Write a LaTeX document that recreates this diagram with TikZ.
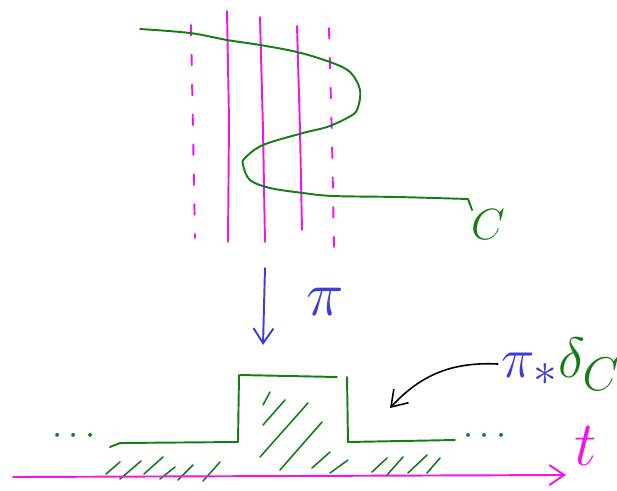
\documentclass[tikz,border=0pt]{standalone}
\usepackage{graphicx}
\usepackage{tikz}
\usetikzlibrary{positioning, arrows.meta}

\definecolor{penGreen}{RGB}{20,125,20}
\definecolor{penMagenta}{RGB}{240,20,240}
\definecolor{penBlue}{RGB}{60,60,215}

\newcommand{\bigmark}[1]{\scalebox{1.45}{\Huge$#1$}}

\begin{document}
\begin{tikzpicture}[
  x=0.02cm, y=-0.02cm,
  pen/.style={line width=1.1pt, line cap=round, line join=round},
  fibre/.style={pen, penMagenta},
  ghost/.style={pen, penMagenta, dash pattern=on 6pt off 11pt},
  curve/.style={pen, penGreen},
  hatch/.style={pen, penGreen, line width=0.9pt},
  arrow/.style={-{Straight Barb[length=3mm, width=4mm]}, pen},
  label/.style={inner sep=0pt, font=\fontsize{26}{26}\selectfont},
  dots/.style={font=\huge\bfseries, penGreen, inner sep=0pt}
]
  \useasboundingbox (0,0) rectangle (617,490);

  % Fibres (magenta)
  \draw[ghost] (191,25) -- (193,130) -- (195,238);
  \draw[fibre] (227,11) -- (229,120) -- (228,242);
  \draw[fibre] (260,17) -- (263,130) -- (265,242);
  \draw[fibre] (297,26) -- (300,130) -- (302,230);
  \draw[ghost] (329,28) -- (332,140) -- (334,247);

  % Curve C (green)
  \draw[curve] plot[smooth, tension=0.55] coordinates {
    (140,29) (190,33) (227,40) (260,45) (297,52) (330,62) (350,72)
    (360,90) (357,110) (347,118) (327,127) (303,133) (263,145)
    (245,158) (243,165) (250,180) (270,188) (303,193) (333,196)
    (397,197) (468,199)} -- (472,210);
  \node[label, penGreen] (labC) at (488,225) {$C$};

  % Projection arrow
  \coordinate (piTop) at (265,268);
  \coordinate (piBot) at (263,345);
  \draw[arrow, penBlue] (piTop) -- (piBot);
  \node[inner sep=0pt, penBlue] (labPi) at (325,302) {\bigmark{\pi}};

  % Step function (green)
  \node[dots] (dotsL) at (74,436) {$\cdots$};
  \node[dots] (dotsR) at (485,436) {$\cdots$};
  \draw[curve] (110,447) -- (120,443) -- (238,442) -- (239,375);
  \draw[curve] (240,375) -- (337,377);
  \draw[curve] (347,377) -- (348,442) -- (455,440);

  % Hatching
  \foreach \xa/\ya/\xb/\yb in {
      106/474/120/462, 120/479/141/461, 144/474/163/457, 160/479/175/467,
      178/480/193/465, 203/481/220/462, 263/405/270/392, 263/425/285/400,
      260/457/308/403, 280/470/322/422, 312/468/330/452, 330/473/348/460,
      372/472/387/458, 387/475/403/457, 408/473/427/455, 427/473/440/458}
    \draw[hatch] (\xa,\ya) -- (\xb,\yb);

  % Time axis
  \coordinate (axL) at (13,477);
  \coordinate (axR) at (566,475);
  \draw[arrow, penMagenta] (axL) -- (axR);
  \node[inner sep=0pt, penMagenta] (labT) at (586,446) {\bigmark{t}};

  % Push-forward label and pointer
  \node[inner sep=2pt] (labPush) at (561,364)
    {\scalebox{1.3}{\Huge\textcolor{penBlue}{$\pi_{*}$}\textcolor{penGreen}{$\delta_{C}$}}};
  \coordinate (stepPt) at (390,408);
  \draw[arrow, black, line width=0.9pt] (labPush.west) to[bend right=25] (stepPt);
\end{tikzpicture}
\end{document}
